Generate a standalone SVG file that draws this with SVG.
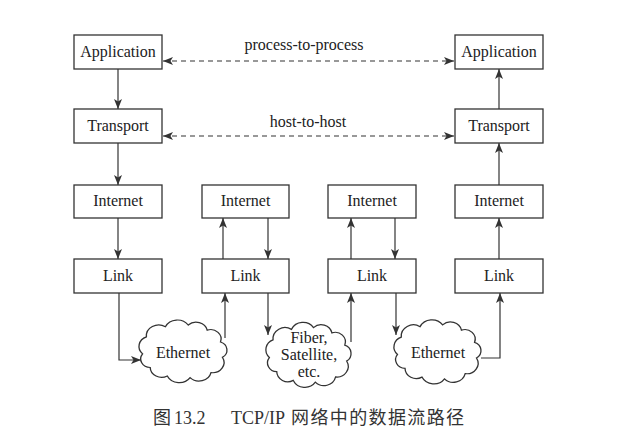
<svg xmlns="http://www.w3.org/2000/svg" xmlns:xlink="http://www.w3.org/1999/xlink" width="632" height="443" viewBox="0 0 632 443">
<style>
.box{fill:#fff;stroke:#333;stroke-width:1.3}
.lbl{font-size:16px;fill:#222;text-anchor:middle}
.ln{fill:none;stroke:#333;stroke-width:1.2}
.dash{fill:none;stroke:#333;stroke-width:1.2;stroke-dasharray:5 4}
.cloud{fill:#fff;stroke:#333;stroke-width:1.4}
.cap{font-size:18px;fill:#333}
</style>
<defs>
<marker id="ah" markerUnits="userSpaceOnUse" markerWidth="11" markerHeight="9" refX="10" refY="4" orient="auto-start-reverse">
<path d="M0,0 L10,4 L0,8 L2.5,4 z" fill="#333"/>
</marker>
<path id="cloudp" d="M-42,4 A12,12 0 0 1 -38,-16 A13,13 0 0 1 -18,-28 A14,14 0 0 1 6,-30 A12,12 0 0 1 26,-24 A11,11 0 0 1 40,-10 A10,10 0 0 1 42,8 A12,12 0 0 1 30,26 A13,13 0 0 1 8,32 A14,14 0 0 1 -16,30 A12,12 0 0 1 -34,20 A10,10 0 0 1 -42,4 Z"/>
</defs>
<rect width="632" height="443" fill="#fff"/>

<g id="connectors">
<line class="dash" x1="163" y1="61" x2="454" y2="61" marker-start="url(#ah)" marker-end="url(#ah)"/>
<line class="dash" x1="163" y1="136" x2="454" y2="136" marker-start="url(#ah)" marker-end="url(#ah)"/>
<line class="ln" x1="118" y1="69" x2="118" y2="109" marker-end="url(#ah)"/>
<line class="ln" x1="118" y1="143" x2="118" y2="185" marker-end="url(#ah)"/>
<line class="ln" x1="118" y1="218" x2="118" y2="259" marker-end="url(#ah)"/>
<polyline class="ln" points="119,293 119,360 141,360" marker-end="url(#ah)"/>
<line class="ln" x1="225" y1="338" x2="225" y2="293" marker-end="url(#ah)"/>
<line class="ln" x1="223" y1="259" x2="223" y2="218" marker-end="url(#ah)"/>
<line class="ln" x1="268" y1="218" x2="268" y2="259" marker-end="url(#ah)"/>
<line class="ln" x1="268" y1="293" x2="268" y2="335" marker-end="url(#ah)"/>
<line class="ln" x1="351" y1="342" x2="351" y2="293" marker-end="url(#ah)"/>
<line class="ln" x1="351" y1="259" x2="351" y2="218" marker-end="url(#ah)"/>
<line class="ln" x1="395" y1="218" x2="395" y2="259" marker-end="url(#ah)"/>
<line class="ln" x1="396" y1="293" x2="396" y2="335" marker-end="url(#ah)"/>
<polyline class="ln" points="481,358 500,358 500,293" marker-end="url(#ah)"/>
<line class="ln" x1="499" y1="259" x2="499" y2="218" marker-end="url(#ah)"/>
<line class="ln" x1="499" y1="185" x2="499" y2="143" marker-end="url(#ah)"/>
<line class="ln" x1="499" y1="109" x2="499" y2="69" marker-end="url(#ah)"/>
</g>

<g font-family="'Liberation Serif', 'Times New Roman', serif">
<g id="label-process"><text class="lbl" x="304" y="50">process-to-process</text></g>
<g id="label-host"><text class="lbl" x="308" y="127">host-to-host</text></g>

<g id="app1"><rect class="box" x="74" y="35" width="88" height="34"/><text class="lbl" x="118" y="57">Application</text></g>
<g id="trans1"><rect class="box" x="74" y="109" width="88" height="34"/><text class="lbl" x="118" y="131">Transport</text></g>
<g id="int1"><rect class="box" x="74" y="185" width="88" height="33"/><text class="lbl" x="118" y="206">Internet</text></g>
<g id="link1"><rect class="box" x="74" y="259" width="88" height="34"/><text class="lbl" x="118" y="281">Link</text></g>

<g id="int2"><rect class="box" x="202" y="185" width="87" height="33"/><text class="lbl" x="245.5" y="206">Internet</text></g>
<g id="link2"><rect class="box" x="202" y="259" width="87" height="34"/><text class="lbl" x="245.5" y="281">Link</text></g>

<g id="int3"><rect class="box" x="328" y="185" width="88" height="33"/><text class="lbl" x="372" y="206">Internet</text></g>
<g id="link3"><rect class="box" x="328" y="259" width="88" height="34"/><text class="lbl" x="372" y="281">Link</text></g>

<g id="app4"><rect class="box" x="455" y="35" width="88" height="34"/><text class="lbl" x="499" y="57">Application</text></g>
<g id="trans4"><rect class="box" x="455" y="109" width="88" height="34"/><text class="lbl" x="499" y="131">Transport</text></g>
<g id="int4"><rect class="box" x="455" y="185" width="88" height="33"/><text class="lbl" x="499" y="206">Internet</text></g>
<g id="link4"><rect class="box" x="455" y="259" width="88" height="34"/><text class="lbl" x="499" y="281">Link</text></g>

<g id="cloud-ethernet1">
<g transform="translate(182.5,350.5) scale(0.95,0.85)"><use xlink:href="#cloudp" class="cloud" style="vector-effect:non-scaling-stroke"/></g>
<text class="lbl" x="183" y="358">Ethernet</text>
</g>
<g id="cloud-fiber">
<g transform="translate(308,354) scale(0.92,0.88)"><use xlink:href="#cloudp" class="cloud" style="vector-effect:non-scaling-stroke"/></g>
<text class="lbl" x="309" y="343" font-size="15">Fiber,</text>
<text class="lbl" x="309" y="360" font-size="15">Satellite,</text>
<text class="lbl" x="309" y="377" font-size="15">etc.</text>
</g>
<g id="cloud-ethernet2">
<g transform="translate(437,351) scale(0.94,0.87)"><use xlink:href="#cloudp" class="cloud" style="vector-effect:non-scaling-stroke"/></g>
<text class="lbl" x="438" y="358">Ethernet</text>
</g>
</g>

<g id="caption" font-family="'Liberation Serif', 'Noto Sans CJK SC', serif">
<text class="cap" y="424"><tspan x="153">图</tspan><tspan x="174">13.2</tspan><tspan x="231">TCP/IP</tspan><tspan x="291" textLength="173" lengthAdjust="spacing">网络中的数据流路径</tspan></text>
</g>
</svg>
